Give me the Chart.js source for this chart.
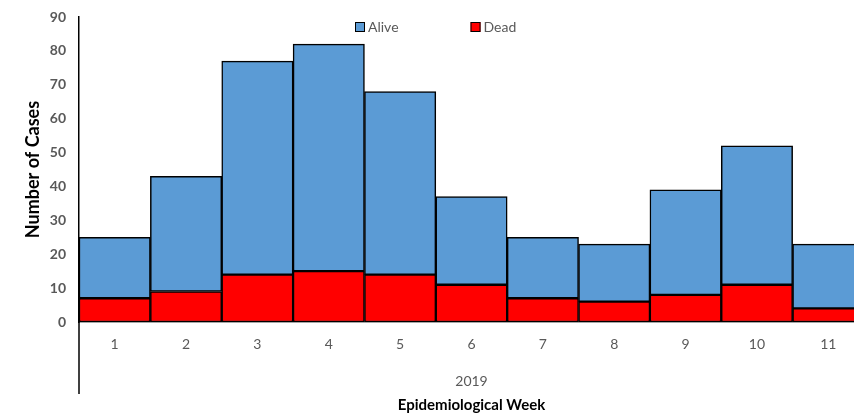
<!DOCTYPE html>
<html><head><meta charset="utf-8">
<script src="https://cdn.jsdelivr.net/npm/chart.js@4"></script>
<style>
html,body{margin:0;padding:0;overflow:hidden;background:#fff;width:854px;height:414px}
#wrap{width:864px;height:414px}
</style></head>
<body><div id="wrap"><canvas id="c" width="864" height="414"></canvas></div>
<script>
const weeks = ['1','2','3','4','5','6','7','8','9','10','11'];
const alive = [18,34,63,67,54,26,18,17,31,41,19];
const dead = [7,9,14,15,14,11,7,6,8,11,4];
const seriesNames = ['Alive','Dead'];
const yearLabel = '2019';
const xTitle = 'Epidemiological Week';
const yTitle = 'Number of Cases';
const yMin = 0, yMax = 90, yStep = 10;

const overlay = {
  id: 'overlay',
  afterDraw(chart) {
    const ctx = chart.ctx, ca = chart.chartArea, xs = chart.scales.x;
    ctx.save();
    ctx.strokeStyle = '#000'; ctx.lineWidth = 1.5;
    ctx.beginPath(); ctx.moveTo(ca.left, ca.bottom); ctx.lineTo(ca.left, xs.bottom); ctx.stroke();
    const items = chart.data.datasets.slice().reverse();
    let x = chart.width / 2 - 77; const y = ca.top + 5;
    ctx.font = '14px Lato'; ctx.textBaseline = 'middle'; ctx.textAlign = 'left';
    items.forEach(ds => {
      ctx.fillStyle = ds.backgroundColor; ctx.fillRect(x, y, 10, 10);
      ctx.strokeStyle = '#000'; ctx.lineWidth = 1; ctx.strokeRect(x + 0.5, y + 0.5, 9, 9);
      ctx.fillStyle = '#595959'; ctx.fillText(ds.label, x + 13, y + 5.5);
      x += 13 + ctx.measureText(ds.label).width + 72;
    });
    ctx.restore();
  }
};

new Chart(document.getElementById('c'), {
  type: 'bar',
  data: {
    labels: weeks,
    datasets: [
      { label: seriesNames[1], data: dead, backgroundColor: '#FF0000', borderColor: '#000', borderWidth: 1.5, borderSkipped: false, barPercentage: 1, categoryPercentage: 1 },
      { label: seriesNames[0], data: alive, backgroundColor: '#5B9BD5', borderColor: '#000', borderWidth: 1.5, borderSkipped: false, barPercentage: 1, categoryPercentage: 1 }
    ]
  },
  options: {
    responsive: false,
    animation: false,
    layout: { padding: { left: 22, top: 17, right: 0, bottom: 0 } },
    plugins: {
      legend: { display: false },
      tooltip: { enabled: false },
      title: { display: true, text: xTitle, position: 'bottom', fullSize: false, color: '#000',
        font: { family: 'Lato', size: 15, weight: 'bold' }, padding: { top: 2, bottom: 0 } }
    },
    scales: {
      x: {
        stacked: true,
        ticks: { color: '#595959', font: { family: 'Lato', size: 14 }, padding: 14 },
        grid: { display: false, drawTicks: false },
        border: { display: true, color: '#a6a6a6', width: 1 },
        title: { display: true, text: yearLabel, color: '#595959', font: { family: 'Lato', size: 14 }, padding: { top: 18, bottom: 4 } },
        afterFit: (s) => { s.height = 72; }
      },
      y: {
        stacked: true, min: yMin, max: yMax,
        ticks: { stepSize: yStep, color: '#595959', font: { family: 'Lato', size: 14, weight: 'bold' }, padding: 13 },
        grid: { display: false, drawTicks: false },
        border: { display: true, color: '#000', width: 1.5 },
        title: { display: true, text: yTitle, color: '#000', font: { family: 'Lato', size: 18, weight: 'bold' }, padding: { top: 0, bottom: 8 } },
        afterFit: (s) => { s.width = 57; s.paddingTop = 0; s.paddingBottom = 0; }
      }
    }
  },
  plugins: [overlay]
});
</script>
</body></html>
